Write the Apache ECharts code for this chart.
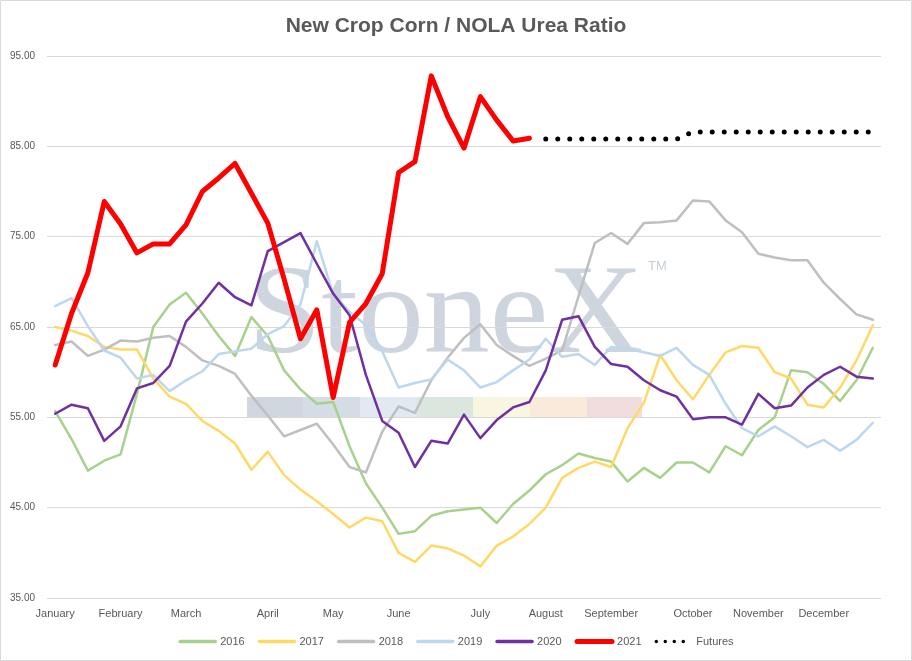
<!DOCTYPE html>
<html>
<head>
<meta charset="utf-8">
<script src="https://cdn.jsdelivr.net/npm/echarts@6/dist/echarts.min.js"></script>
<style>
  html, body { margin: 0; padding: 0; background: #fff; }
  #main { width: 912px; height: 661px; }
</style>
</head>
<body>
<div id="main"></div>
<script>
// month names and the week index where each one starts (weekly series, 51 weeks)
var months = ['January', 'February', 'March', 'April', 'May', 'June', 'July',
    'August', 'September', 'October', 'November', 'December'];
var monthStart = [0, 4, 8, 13, 17, 21, 26, 30, 34, 39, 43, 47];
var weekCount = 51;

var y2016 = [55.7, 52.6, 49.1, 50.2, 50.9, 57.6, 65.0, 67.5, 68.8, 66.5, 64.0, 61.8, 66.1, 64.0, 60.2, 58.1, 56.5,
    56.7, 51.8, 47.7, 45.0, 42.1, 42.4, 44.1, 44.6, 44.8, 45.0, 43.3, 45.4, 46.9, 48.7, 49.7, 51.0, 50.5,
    50.1, 47.9, 49.4, 48.3, 50.0, 50.0, 48.9, 51.8, 50.8, 53.6, 55.0, 60.2, 60.0, 58.7, 56.8, 59.1, 62.7];
var y2017 = [65.0, 64.6, 64.0, 62.8, 62.5, 62.5, 59.3, 57.3, 56.5, 54.6, 53.5, 52.1, 49.2, 51.2, 48.6, 47.0, 45.7,
    44.3, 42.8, 43.9, 43.5, 40.0, 39.0, 40.8, 40.5, 39.7, 38.5, 40.8, 41.8, 43.2, 45.0, 48.3, 49.4, 50.1,
    49.5, 53.8, 56.6, 61.9, 59.1, 57.0, 59.7, 62.2, 62.9, 62.7, 60.0, 59.3, 56.4, 56.1, 58.3, 61.3, 65.2];
var y2018 = [63.0, 63.4, 61.8, 62.5, 63.5, 63.4, 63.8, 64.0, 62.8, 61.3, 60.7, 59.8, 57.4, 55.2, 52.9, 53.6, 54.3,
    52.0, 49.5, 48.9, 53.4, 56.2, 55.5, 59.1, 61.6, 63.8, 65.3, 63.0, 61.8, 60.7, 61.5, 62.4, 68.4, 74.3,
    75.4, 74.2, 76.5, 76.6, 76.8, 79.0, 78.9, 76.8, 75.5, 73.1, 72.7, 72.4, 72.4, 69.9, 68.1, 66.4, 65.8];
var y2019 = [67.3, 68.2, 65.1, 62.4, 61.6, 59.3, 59.7, 57.9, 59.1, 60.1, 62.0, 62.3, 62.6, 64.2, 65.1, 67.5, 74.5,
    68.6, 66.7, 65.2, 62.3, 58.3, 58.8, 59.2, 61.4, 60.2, 58.3, 58.9, 60.2, 61.4, 63.7, 61.7, 62.0, 60.8,
    62.8, 62.6, 62.2, 61.8, 62.7, 60.8, 59.7, 56.5, 53.8, 52.9, 54.0, 52.9, 51.7, 52.5, 51.3, 52.5, 54.4];
var y2020 = [55.4, 56.4, 56.0, 52.4, 54.0, 58.2, 58.8, 60.7, 65.6, 67.6, 69.9, 68.3, 67.4, 73.4, 74.4, 75.4, 72.0,
    68.7, 66.3, 59.7, 54.6, 53.3, 49.5, 52.4, 52.1, 55.3, 52.7, 54.7, 56.1, 56.7, 60.2, 65.8, 66.2, 62.8,
    60.9, 60.6, 59.1, 58.0, 57.3, 54.8, 55.0, 55.0, 54.2, 57.6, 56.0, 56.3, 58.3, 59.7, 60.6, 59.5, 59.3];
var y2021 = [60.8, 66.5, 71.0, 78.9, 76.4, 73.2, 74.2, 74.2, 76.3, 80.0, 81.5, 83.1, 79.8, 76.5, 70.3, 63.7, 66.9,
    57.2, 65.5, 67.6, 70.9, 82.1, 83.3, 92.8, 88.3, 84.8, 90.5, 87.9, 85.6, 85.9];
// futures start in the week after the last 2021 print
var futuresStart = 30;
var futures = [85.8, 85.8, 85.8, 85.8, 85.8, 85.8, 85.8, 85.8, 85.8, 86.6, 86.6, 86.6, 86.6, 86.6, 86.6, 86.6,
    86.6, 86.6, 86.6, 86.6, 86.6];

var weeks = [];
var m = 0;
for (var i = 0; i < weekCount; i++) {
    if (m + 1 < monthStart.length && i >= monthStart[m + 1]) m++;
    weeks.push(i === monthStart[m] ? months[m] : months[m] + ' wk' + (i - monthStart[m] + 1));
}
var futuresData = [];
for (var k = 0; k < weekCount; k++) {
    futuresData.push(k < futuresStart ? null : futures[k - futuresStart]);
}

var txt = '#595959';
var font = 'Liberation Sans';

function yearLine(name, data, color, width) {
    return {
        name: name, type: 'line', data: data, symbol: 'none', smooth: false,
        lineStyle: { color: color, width: width, cap: 'round', join: 'round' },
        itemStyle: { color: color }
    };
}

var chart = echarts.init(document.getElementById('main'));

var option = {
    backgroundColor: '#fff',
    animation: false,
    title: {
        text: 'New Crop Corn / NOLA Urea Ratio',
        left: 'center',
        top: 11,
        textStyle: { color: txt, fontSize: 21, fontWeight: 'bold', fontFamily: font }
    },
    legend: {
        bottom: 9,
        left: 'center',
        itemWidth: 35,
        itemHeight: 10,
        itemGap: 13,
        itemStyle: { opacity: 0 },
        lineStyle: { width: 3.5 },
        textStyle: { color: txt, fontSize: 11, fontFamily: font },
        data: ['2016', '2017', '2018', '2019', '2020',
            { name: '2021', lineStyle: { width: 5 } },
            { name: 'Futures', lineStyle: { width: 3.5, type: [0, 9], cap: 'round' } }]
    },
    grid: { left: 47, right: 31, top: 56, bottom: 63 },
    xAxis: {
        type: 'category',
        data: weeks,
        boundaryGap: true,
        axisLine: { show: false },
        axisTick: { show: false },
        axisLabel: {
            color: txt, fontSize: 11, fontFamily: font, margin: 10,
            interval: function (idx) { return monthStart.indexOf(idx) >= 0; },
            formatter: function (v) { return v.split(' ')[0]; }
        }
    },
    yAxis: {
        type: 'value',
        min: 35,
        max: 95,
        interval: 10,
        axisLine: { show: false },
        axisTick: { show: false },
        axisLabel: {
            color: txt, fontSize: 10, fontFamily: font, margin: 12,
            formatter: function (v) { return v.toFixed(2); }
        },
        splitLine: { lineStyle: { color: '#d9d9d9', width: 1 } }
    },
    graphic: [
        { type: 'rect', z: -10, shape: { x: 0.5, y: 0.5, width: 911, height: 660 },
          style: { fill: 'none', stroke: '#d9d9d9', lineWidth: 1 } },
        { type: 'text', z: -5, x: 248, y: 318, scaleX: 1.03,
          style: { text: 'StoneX', font: '128px "Liberation Serif"', fill: '#c6ced8', opacity: 0.85,
                   align: 'left', verticalAlign: 'middle' } },
        { type: 'text', z: -5, x: 648, y: 266,
          style: { text: 'TM', font: '13px "Liberation Sans"', fill: '#c6ced8', align: 'left', verticalAlign: 'middle' } },
        { type: 'rect', z: -5, shape: { x: 247, y: 397, width: 56, height: 21 }, style: { fill: '#c9d0d9', opacity: 0.85 } },
        { type: 'rect', z: -5, shape: { x: 303, y: 397, width: 57, height: 21 }, style: { fill: '#ccd6e1', opacity: 0.85 } },
        { type: 'rect', z: -5, shape: { x: 360, y: 397, width: 57, height: 21 }, style: { fill: '#dce6ef', opacity: 0.85 } },
        { type: 'rect', z: -5, shape: { x: 417, y: 397, width: 56, height: 21 }, style: { fill: '#d5e2d8', opacity: 0.85 } },
        { type: 'rect', z: -5, shape: { x: 473, y: 397, width: 57, height: 21 }, style: { fill: '#f7f4dc', opacity: 0.85 } },
        { type: 'rect', z: -5, shape: { x: 530, y: 397, width: 57, height: 21 }, style: { fill: '#f9e6d2', opacity: 0.85 } },
        { type: 'rect', z: -5, shape: { x: 587, y: 397, width: 55, height: 21 }, style: { fill: '#efd6d8', opacity: 0.85 } }
    ],
    series: [
        yearLine('2016', y2016, '#a9d18e', 2.5),
        yearLine('2017', y2017, '#ffd966', 2.5),
        yearLine('2018', y2018, '#bfbfbf', 2.5),
        yearLine('2019', y2019, '#bdd7ee', 2.5),
        yearLine('2020', y2020, '#7030a0', 2.5),
        yearLine('2021', y2021, '#ff0000', 5),
        {
            name: 'Futures', type: 'line', data: futuresData, symbol: 'none',
            lineStyle: { color: '#000', width: 5, type: [0, 12], cap: 'round' },
            itemStyle: { color: '#000' }
        }
    ]
};

chart.setOption(option);
</script>
</body>
</html>
